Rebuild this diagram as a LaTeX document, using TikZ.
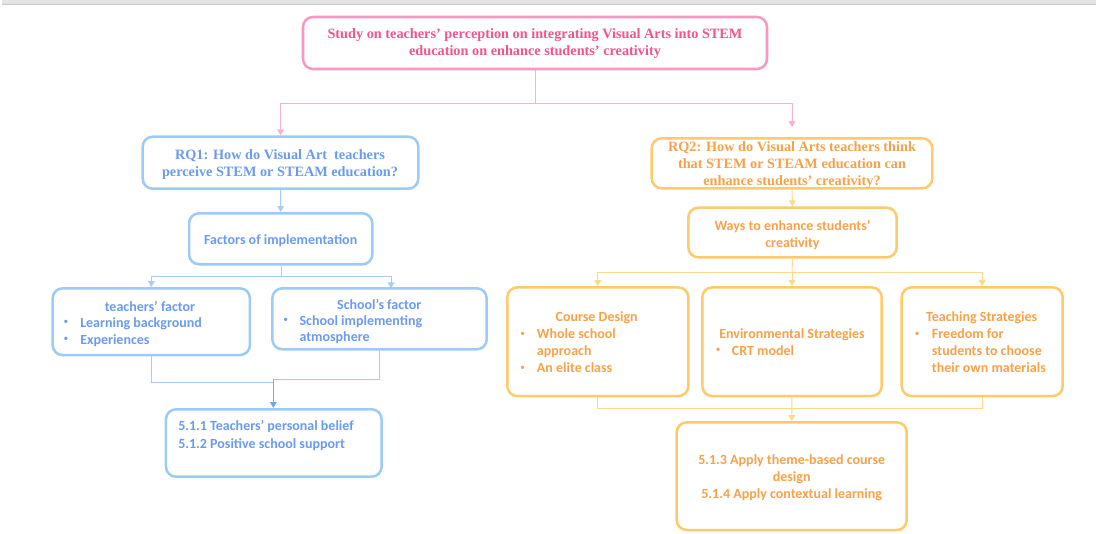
\documentclass[tikz,border=0pt]{standalone}
\usepackage{fontspec}
\setmainfont{Liberation Serif}
\newfontfamily\carlito{Carlito}
\usetikzlibrary{arrows.meta}

\definecolor{pinkedge}{HTML}{F598C2}
\definecolor{pinktext}{HTML}{F0558E}
\definecolor{pinkline}{HTML}{F9B0D2}
\definecolor{blueedge}{HTML}{9ECBF6}
\definecolor{bluetext}{HTML}{6B9BEE}
\definecolor{blueline}{HTML}{A6CDF5}
\definecolor{bluedark}{HTML}{7AA4EE}
\definecolor{orangeedge}{HTML}{FFCA6A}
\definecolor{orangetext}{HTML}{F7A24A}
\definecolor{orangeline}{HTML}{FFD88C}
\definecolor{barfill}{HTML}{E4E4E4}
\definecolor{barline}{HTML}{C9C9C9}

\tikzset{
  box/.style={draw, line width=1.9pt, rounded corners=7.5pt, fill=white, inner sep=0pt},
  sz/.style 2 args={minimum width=#1*0.75pt, minimum height=#2*0.75pt},
  serif/.style={font=\fontsize{10.7}{12.7}\selectfont\bfseries, inner sep=0pt, align=center, yshift=-1pt},
  sans/.style={font=\carlito\bfseries\fontsize{10.5}{12.7}\selectfont, inner sep=0pt, align=center, yshift=-1pt},
  line/.style={sans, align=left, anchor=west, text height=1.5ex, text depth=.25ex},
  dot/.style={font=\carlito\fontsize{7}{8}\selectfont, inner sep=0pt, yshift=-0.5pt},
  conn/.style={line width=0.75pt},
  arr/.style={conn, -{Triangle[length=4.5pt,width=5pt]}},
}

\begin{document}
\begin{tikzpicture}[x=0.75pt,y=-0.75pt]
\useasboundingbox (0,0) rectangle (1097,533);

% window strip along the top edge
\fill[barfill] (2,0) rectangle (1096,4.5);
\draw[barline, line width=0.6pt] (2,4.5) -- (1096,4.5);

% ---------- boxes ----------
\node[box, draw=pinkedge, sz={464}{52}] (title) at (535,43) {};

\node[box, draw=blueedge, sz={275.6}{52}] (rq1) at (280.5,162.7) {};
\node[box, draw=blueedge, sz={183.3}{51}] (fac) at (280.7,238.8) {};
\node[box, draw=blueedge, sz={197.3}{66.7}] (tf) at (151.3,321.7) {};
\node[box, draw=blueedge, sz={214.4}{61}] (sf) at (379.5,318.8) {};
\node[box, draw=blueedge, sz={215.7}{67.4}] (res1) at (273.8,443) {};

\node[box, draw=orangeedge, sz={280.6}{50}] (rq2) at (792,163.3) {};
\node[box, draw=orangeedge, sz={208.4}{49.6}] (ways) at (792.5,232.5) {};
\node[box, draw=orangeedge, sz={181}{108.7}] (cd) at (597.8,341.7) {};
\node[box, draw=orangeedge, sz={179.4}{108.7}] (env) at (792,341.7) {};
\node[box, draw=orangeedge, sz={161}{108.7}] (ts) at (982.2,341.7) {};
\node[box, draw=orangeedge, sz={230}{107.7}] (res2) at (791.7,476.2) {};

% ---------- branch points ----------
\coordinate (pinkfork) at (535.7,103);
\coordinate (bluefork) at (281.7,276.7);
\coordinate (sfin) at (391,288.3);
\coordinate (bluejoinA) at (273.3,382.3);
\coordinate (bluejoinB) at (273.3,379.3);
\coordinate (orfork) at (792,272.7);
\coordinate (orjoin) at (792,408.3);

% ---------- connectors ----------
\draw[conn, pinkline] (title.south -| pinkfork) -- (pinkfork);
\draw[arr, pinkline] (pinkfork) -| (rq1.north);
\draw[arr, pinkline, shorten >=7.5pt] (pinkfork) -| (rq2.north);

\draw[arr, blueline] (rq1.south) -- (fac.north);
\draw[conn, blueline] (fac.south -| bluefork) -- (bluefork);
\draw[arr, blueline] (bluefork) -| (tf.north);
\draw[arr, blueline] (bluefork) -| (sfin);
\draw[conn, blueline] (tf.south) |- (bluejoinA);
\draw[conn, blueline] (sf.south) |- (bluejoinB);
\draw[arr, bluedark] (bluejoinB) -- (res1.north -| bluejoinB);

\draw[arr, orangeline] (rq2.south) -- (ways.north);
\draw[conn, orangeline] (ways.south) -- (orfork);
\draw[arr, orangeline] (orfork) -| (cd.north);
\draw[arr, orangeline] (orfork) -- (env.north);
\draw[arr, orangeline] (orfork) -| (ts.north);
\draw[conn, orangeline] (cd.south) |- (orjoin);
\draw[conn, orangeline] (ts.south) |- (orjoin);
\draw[arr, orangeline] (env.south) -- (res2.north);

% ---------- texts ----------
\node[serif, text=pinktext] (titletxt) at (535,42.5)
  {Study on teachers’ perception on integrating Visual Arts into STEM\\education on enhance students’ creativity};

\node[serif, text=bluetext] (rq1txt) at (280,163)
  {RQ1: How do Visual Art\ \ teachers\\perceive STEM or STEAM education?};
\node[sans, text=bluetext] (factxt) at (280.7,239) {Factors of implementation};

\node[sans, text=bluetext] (tfhead) at (150,305) {teachers’ factor};
\node[dot, text=bluetext] (tfd1) at (66,322) {•};
\node[dot, text=bluetext] (tfd2) at (66,339) {•};
\node[line, text=bluetext] (tfl1) at (80,322) {Learning background};
\node[line, text=bluetext] (tfl2) at (80,339) {Experiences};

\node[sans, text=bluetext] (sfhead) at (379.3,302.7) {School’s factor};
\node[dot, text=bluetext] (sfd1) at (285.7,320) {•};
\node[line, text=bluetext] (sfl1) at (299.3,320) {School implementing};
\node[line, text=bluetext] (sfl2) at (299.3,336.7) {atmosphere};

\node[line, text=bluetext] (r1l1) at (178,425.7) {5.1.1 Teachers’ personal belief};
\node[line, text=bluetext] (r1l2) at (178,443.3) {5.1.2 Positive school support};

\node[serif, text=orangetext] (rq2txt) at (792,164)
  {RQ2: How do Visual Arts teachers think\\that STEM or STEAM education can\\enhance students’ creativity?};
\node[sans, text=orangetext] (waystxt) at (792.5,233.3) {Ways to enhance students’\\creativity};

\node[sans, text=orangetext] (cdhead) at (596.7,316.7) {Course Design};
\node[dot, text=orangetext] (cdd1) at (522.7,333.3) {•};
\node[dot, text=orangetext] (cdd2) at (522.7,367.7) {•};
\node[line, text=orangetext] (cdl1) at (536.7,333.3) {Whole school};
\node[line, text=orangetext] (cdl2) at (536.7,350) {approach};
\node[line, text=orangetext] (cdl3) at (536.7,367.7) {An elite class};

\node[sans, text=orangetext] (envhead) at (792,333.3) {Environmental Strategies};
\node[dot, text=orangetext] (envd1) at (718.3,350) {•};
\node[line, text=orangetext] (envl1) at (731.7,350) {CRT model};

\node[sans, text=orangetext] (tshead) at (981.7,316.7) {Teaching Strategies};
\node[dot, text=orangetext] (tsd1) at (917.3,333.3) {•};
\node[line, text=orangetext] (tsl1) at (931.7,333.3) {Freedom for};
\node[line, text=orangetext] (tsl2) at (931.7,350) {students to choose};
\node[line, text=orangetext] (tsl3) at (931.7,367.7) {their own materials};

\node[sans, text=orangetext] (res2txt) at (791.7,476.7)
  {5.1.3 Apply theme-based course\\design\\5.1.4 Apply contextual learning};
\end{tikzpicture}
\end{document}
